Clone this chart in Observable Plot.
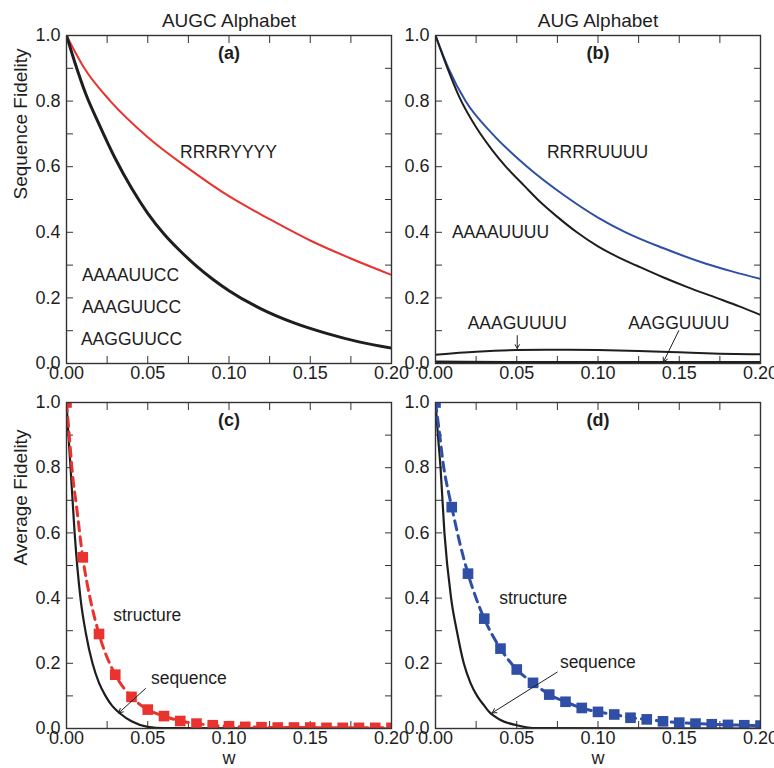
<!DOCTYPE html>
<html><head><meta charset="utf-8">
<script src="https://cdn.jsdelivr.net/npm/d3@7"></script>
<script src="https://cdn.jsdelivr.net/npm/@observablehq/plot@0.6"></script>
<style>
body{margin:0;background:#fff;}
#wrap{position:relative;width:774px;height:768px;overflow:hidden;background:#fff;}
.panel{position:absolute;}
</style></head><body><div id="wrap"></div>
<script>
// ---------- tick values ----------
const xMajor = [0, 0.05, 0.10, 0.15, 0.20];
const xMinor = [0, 0.025, 0.05, 0.075, 0.10, 0.125, 0.15, 0.175, 0.20];
const yMajor = [0, 0.2, 0.4, 0.6, 0.8, 1.0];
const yMinor = [0, 0.1, 0.2, 0.3, 0.4, 0.5, 0.6, 0.7, 0.8, 0.9, 1.0];

// ---------- panel (a): AUGC alphabet, sequence fidelity ----------
const rrrryyyyW = [0, 0.011, 0.027, 0.05, 0.075, 0.10, 0.125, 0.15, 0.175, 0.20];
const rrrryyyyV = [1.0, 0.90, 0.80, 0.69, 0.595, 0.51, 0.44, 0.375, 0.32, 0.27];
const aaaauuccW = [0, 0.005, 0.012, 0.02, 0.03, 0.04, 0.05, 0.06, 0.07, 0.08, 0.09, 0.10, 0.12, 0.14, 0.16, 0.18, 0.20];
const aaaauuccV = [1.0, 0.92, 0.82, 0.73, 0.625, 0.535, 0.458, 0.395, 0.343, 0.297, 0.257, 0.222, 0.166, 0.124, 0.092, 0.066, 0.047];

// ---------- panel (b): AUG alphabet, sequence fidelity ----------
const rrrruuuuW = [0, 0.008, 0.0185, 0.035, 0.0564, 0.08, 0.10, 0.117, 0.14, 0.166, 0.183, 0.20];
const rrrruuuuV = [1.0, 0.90, 0.80, 0.70, 0.60, 0.51, 0.445, 0.40, 0.352, 0.305, 0.28, 0.258];
const aaaauuuuW = [0, 0.007, 0.0144, 0.025, 0.035, 0.043, 0.055, 0.065, 0.075, 0.087, 0.10, 0.112, 0.124, 0.14, 0.155, 0.173, 0.187, 0.20];
const aaaauuuuV = [1.0, 0.905, 0.815, 0.72, 0.65, 0.602, 0.54, 0.49, 0.447, 0.40, 0.357, 0.325, 0.298, 0.263, 0.233, 0.20, 0.174, 0.148];
const aaaguuuuW = [0, 0.025, 0.05, 0.075, 0.10, 0.125, 0.15, 0.175, 0.20];
const aaaguuuuV = [0.027, 0.036, 0.041, 0.042, 0.041, 0.038, 0.034, 0.030, 0.028];
const aagguuuuW = [0, 0.05, 0.10, 0.15, 0.20];
const aagguuuuV = [0.005, 0.004, 0.004, 0.004, 0.004];

// ---------- panels (c),(d): average fidelity ----------
const structW = [0, 0.01, 0.02, 0.03, 0.04, 0.05, 0.06, 0.07, 0.08, 0.09, 0.10,
                 0.11, 0.12, 0.13, 0.14, 0.15, 0.16, 0.17, 0.18, 0.19, 0.20];
const structC = [1.0, 0.525, 0.29, 0.165, 0.097, 0.058, 0.038, 0.023, 0.015, 0.010, 0.007,
                 0.005, 0.004, 0.003, 0.003, 0.003, 0.002, 0.002, 0.002, 0.002, 0.002];
const structD = [1.0, 0.679, 0.475, 0.337, 0.245, 0.181, 0.140, 0.104, 0.082, 0.063, 0.051,
                 0.043, 0.033, 0.028, 0.022, 0.018, 0.015, 0.013, 0.011, 0.010, 0.009];
// extra points of the dashed curves between the first squares
const dashHeadCW = [0.0018, 0.0035, 0.0062, 0.0148];
const dashHeadCV = [0.893, 0.79, 0.68, 0.393];
const dashHeadDW = [0.002, 0.0051, 0.0082, 0.015];
const dashHeadDV = [0.924, 0.80, 0.72, 0.568];
// sequence curves
const seqCW = [0, 0.0012, 0.0025, 0.005, 0.0086, 0.012, 0.016, 0.02, 0.024, 0.028, 0.033, 0.04, 0.05, 0.06, 0.20];
const seqCV = [1.0, 0.90, 0.80, 0.60, 0.40, 0.29, 0.20, 0.14, 0.10, 0.07, 0.046, 0.022, 0.005, 0.001, 0];
const seqDW = [0, 0.0015, 0.0031, 0.0055, 0.0096, 0.0135, 0.0174, 0.0215, 0.0256, 0.03, 0.0338, 0.036, 0.04, 0.05, 0.0626, 0.20];
const seqDV = [1.0, 0.90, 0.80, 0.60, 0.40, 0.29, 0.20, 0.14, 0.10, 0.07, 0.047, 0.039, 0.026, 0.01, 0.001, 0];

// ---------- annotations (data coordinates) ----------
const labelsA = [
  {w: 0.0997, v: 0.643, t: "RRRRYYYY"},
  {w: 0.0394, v: 0.268, t: "AAAAUUCC"},
  {w: 0.040, v: 0.171, t: "AAAGUUCC"},
  {w: 0.040, v: 0.073, t: "AAGGUUCC"}
];
const labelsB = [
  {w: 0.0997, v: 0.643, t: "RRRRUUUU"},
  {w: 0.040, v: 0.400, t: "AAAAUUUU"},
  {w: 0.0503, v: 0.121, t: "AAAGUUUU"},
  {w: 0.1497, v: 0.121, t: "AAGGUUUU"}
];
const arrowsB = [
  {w1: 0.0503, v1: 0.085, w2: 0.0503, v2: 0.046},
  {w1: 0.1497, v1: 0.100, w2: 0.1403, v2: 0.005}
];
const labelsC = [
  {w: 0.0497, v: 0.347, t: "structure"},
  {w: 0.0753, v: 0.153, t: "sequence"}
];
const arrowsC = [{w1: 0.0486, v1: 0.1225, w2: 0.0322, v2: 0.048}];
const labelsD = [
  {w: 0.0601, v: 0.398, t: "structure"},
  {w: 0.0999, v: 0.204, t: "sequence"}
];
const arrowsD = [{w1: 0.0749, v1: 0.173, w2: 0.0349, v2: 0.048}];

// ---------- styles ----------
const RED = "#e8332f";
const BLUE = "#2f4fa6";
const INK = "#1e1e1e";
const FONT = '"Liberation Sans", Arial, Helvetica, sans-serif';

const rows = (ws, vs) => ws.map((w, i) => ({w, v: vs[i]}));
const byW = (a, b) => a.w - b.w;

function panel({height, marginBottom, marks, title, ylabel, xlabel, tag}) {
  return Plot.plot({
    width: 400, height,
    marginLeft: 66, marginRight: 9, marginTop: 35, marginBottom,
    x: {domain: [0, 0.2]},
    y: {domain: [0, 1]},
    style: {fontFamily: FONT, fontSize: "18px", overflow: "visible", maxWidth: "none", background: "transparent", color: INK},
    marks: [
      Plot.axisX({anchor: "bottom", ticks: xMajor, tickSize: 0, tickPadding: 3, tickFormat: d3.format(".2f"), label: null}),
      Plot.axisY({anchor: "left", ticks: yMajor, tickSize: 0, tickPadding: 6, tickFormat: d3.format(".1f"), label: null}),
      Plot.axisX({anchor: "bottom", ticks: xMinor, tickSize: -7, fill: "none", stroke: "#333", label: null}),
      Plot.axisX({anchor: "top", ticks: xMinor, tickSize: -7, fill: "none", stroke: "#333", label: null}),
      Plot.axisY({anchor: "left", ticks: yMinor, tickSize: -7, fill: "none", stroke: "#333", label: null}),
      Plot.axisY({anchor: "right", ticks: yMinor, tickSize: -7, fill: "none", stroke: "#333", label: null}),
      ...marks,
      Plot.frame({stroke: "#333", strokeWidth: 1.4}),
      Plot.text([tag], {frameAnchor: "top", lineAnchor: "middle", dy: 18, fontSize: 18, fontWeight: "bold", fill: INK}),
      title ? Plot.text([title], {frameAnchor: "top", lineAnchor: "middle", dy: -15, fontSize: 19, fill: INK}) : null,
      ylabel ? Plot.text([ylabel], {frameAnchor: "left", lineAnchor: "middle", rotate: -90, dx: -46, fontSize: 19, fill: INK}) : null,
      xlabel ? Plot.text([xlabel], {frameAnchor: "bottom", lineAnchor: "middle", dy: 30, fontSize: 18, fill: INK}) : null
    ]
  });
}

const textMarks = (labels) => Plot.text(labels, {x: "w", y: "v", text: "t", fontSize: 17.5, fill: INK});
const arrowMarks = (arrows) => Plot.arrow(arrows, {x1: "w1", y1: "v1", x2: "w2", y2: "v2", stroke: INK, strokeWidth: 1, headLength: 7});

const pa = panel({
  height: 380, marginBottom: 17, title: "AUGC Alphabet", ylabel: "Sequence Fidelity", tag: "(a)",
  marks: [
    Plot.line(rows(rrrryyyyW, rrrryyyyV), {x: "w", y: "v", stroke: RED, strokeWidth: 2, curve: "monotone-x", clip: true}),
    Plot.line(rows(aaaauuccW, aaaauuccV), {x: "w", y: "v", stroke: INK, strokeWidth: 3, curve: "monotone-x", clip: true}),
    textMarks(labelsA)
  ]
});

const pb = panel({
  height: 380, marginBottom: 17, title: "AUG Alphabet", tag: "(b)",
  marks: [
    Plot.line(rows(rrrruuuuW, rrrruuuuV), {x: "w", y: "v", stroke: BLUE, strokeWidth: 2, curve: "monotone-x", clip: true}),
    Plot.line(rows(aaaauuuuW, aaaauuuuV), {x: "w", y: "v", stroke: INK, strokeWidth: 2, curve: "monotone-x", clip: true}),
    Plot.line(rows(aaaguuuuW, aaaguuuuV), {x: "w", y: "v", stroke: INK, strokeWidth: 2, curve: "monotone-x", clip: true}),
    Plot.line(rows(aagguuuuW, aagguuuuV), {x: "w", y: "v", stroke: INK, strokeWidth: 2.5, curve: "monotone-x", clip: true}),
    textMarks(labelsB),
    arrowMarks(arrowsB)
  ]
});

const pc = panel({
  height: 400, marginBottom: 39, ylabel: "Average Fidelity", xlabel: "w", tag: "(c)",
  marks: [
    Plot.line(rows(seqCW, seqCV), {x: "w", y: "v", stroke: INK, strokeWidth: 2.2, curve: "monotone-x", clip: true}),
    Plot.line(rows(structW, structC).concat(rows(dashHeadCW, dashHeadCV)).sort(byW),
      {x: "w", y: "v", stroke: RED, strokeWidth: 3, strokeDasharray: "9,6", curve: "monotone-x", clip: true}),
    Plot.dot(rows(structW, structC), {x: "w", y: "v", symbol: "square", r: 6, fill: RED, clip: true}),
    textMarks(labelsC),
    arrowMarks(arrowsC)
  ]
});

const pd = panel({
  height: 400, marginBottom: 39, xlabel: "w", tag: "(d)",
  marks: [
    Plot.line(rows(seqDW, seqDV), {x: "w", y: "v", stroke: INK, strokeWidth: 2.2, curve: "monotone-x", clip: true}),
    Plot.line(rows(structW, structD).concat(rows(dashHeadDW, dashHeadDV)).sort(byW),
      {x: "w", y: "v", stroke: BLUE, strokeWidth: 3, strokeDasharray: "9,6", curve: "monotone-x", clip: true}),
    Plot.dot(rows(structW, structD), {x: "w", y: "v", symbol: "square", r: 6, fill: BLUE, clip: true}),
    textMarks(labelsD),
    arrowMarks(arrowsD)
  ]
});

const wrap = document.getElementById("wrap");
function place(el, left, top) {
  const d = document.createElement("div");
  d.className = "panel";
  d.style.left = left + "px";
  d.style.top = top + "px";
  d.appendChild(el);
  wrap.appendChild(d);
}
place(pa, 0, 0);
place(pb, 369, 0);
place(pc, 0, 367);
place(pd, 369, 367);
</script>
</body></html>
